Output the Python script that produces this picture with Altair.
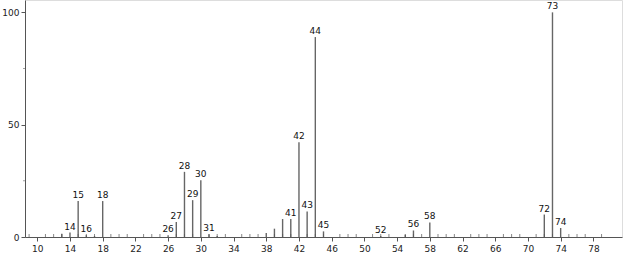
import altair as alt
import pandas as pd

mz = [13, 14, 15, 16, 17, 18, 26, 27, 28, 29, 30, 31, 32, 38, 39, 40, 41, 42, 43, 44, 45, 52, 55, 56, 58, 72, 73, 74]
intensity = [1.5, 2.0, 16.0, 0.8, 0.4, 16.0, 0.8, 6.7, 29.0, 16.4, 25.3, 1.2, 0.5, 1.8, 3.7, 8.0, 8.0, 42.2, 11.4, 89.0, 2.5, 0.4, 1.0, 2.9, 6.5, 10.0, 100.0, 4.0]
labeled = [14, 15, 16, 18, 26, 27, 28, 29, 30, 31, 41, 42, 43, 44, 45, 52, 56, 58, 72, 73, 74]

x_major = list(range(10, 79, 4))
x_minor = [v for v in range(9, 80) if v not in x_major]
y_major = [0, 50, 100]
y_minor = [25, 75]

peaks = pd.DataFrame({"mz": mz, "inten": intensity})
peaks["label"] = [str(m) if m in labeled else "" for m in mz]
labels_df = peaks[peaks["label"] != ""]

xscale = alt.Scale(domain=[8.5, 81.5], nice=False, zero=False)
yscale = alt.Scale(domain=[0, 105.5], nice=False)

x_axis = alt.Axis(values=x_major, title=None, grid=False, tickSize=4,
                  labelPadding=3, labelFontSize=9, labelFont="DejaVu Sans",
                  labelColor="#222", domainColor="#555", tickColor="#555",
                  labelFlush=False, labelOverlap=False, labelBound=False)
y_axis = alt.Axis(values=y_major, title=None, grid=False, tickSize=4,
                  labelPadding=2, labelFontSize=9, labelFont="DejaVu Sans",
                  labelColor="#222", domainColor="#555", tickColor="#555",
                  labelOverlap=False)

rules = alt.Chart(peaks).mark_rule(color="#666", strokeWidth=1.4).encode(
    x=alt.X("mz:Q", scale=xscale, axis=x_axis),
    y=alt.Y("inten:Q", scale=yscale, axis=y_axis),
    y2=alt.datum(0)
)

texts = alt.Chart(labels_df).mark_text(
    font="DejaVu Sans", fontSize=9, color="#111", baseline="middle", align="center", dy=-6
).encode(
    x=alt.X("mz:Q", scale=xscale, axis=x_axis),
    y=alt.Y("inten:Q", scale=yscale, axis=y_axis),
    text="label:N"
)

minor_x = alt.Chart(pd.DataFrame({"mz": x_minor})).mark_tick(
    orient="vertical", size=3, thickness=1, color="#555", yOffset=-1.5
).encode(x=alt.X("mz:Q", scale=xscale, axis=x_axis), y=alt.value(237))

minor_y = alt.Chart(pd.DataFrame({"inten": y_minor})).mark_tick(
    orient="horizontal", size=2, thickness=1, color="#777", xOffset=-1
).encode(y=alt.Y("inten:Q", scale=yscale, axis=y_axis), x=alt.value(0))

chart = alt.layer(rules, minor_x, minor_y, texts).properties(
    width=597, height=237,
    autosize=alt.AutoSizeParams(type="none"),
    padding={"left": 25, "top": 0, "right": 1, "bottom": 17},
).configure_view(stroke=None).configure(background="white")

chart.save("out.html", embed_options={"renderer": "svg", "actions": False})
